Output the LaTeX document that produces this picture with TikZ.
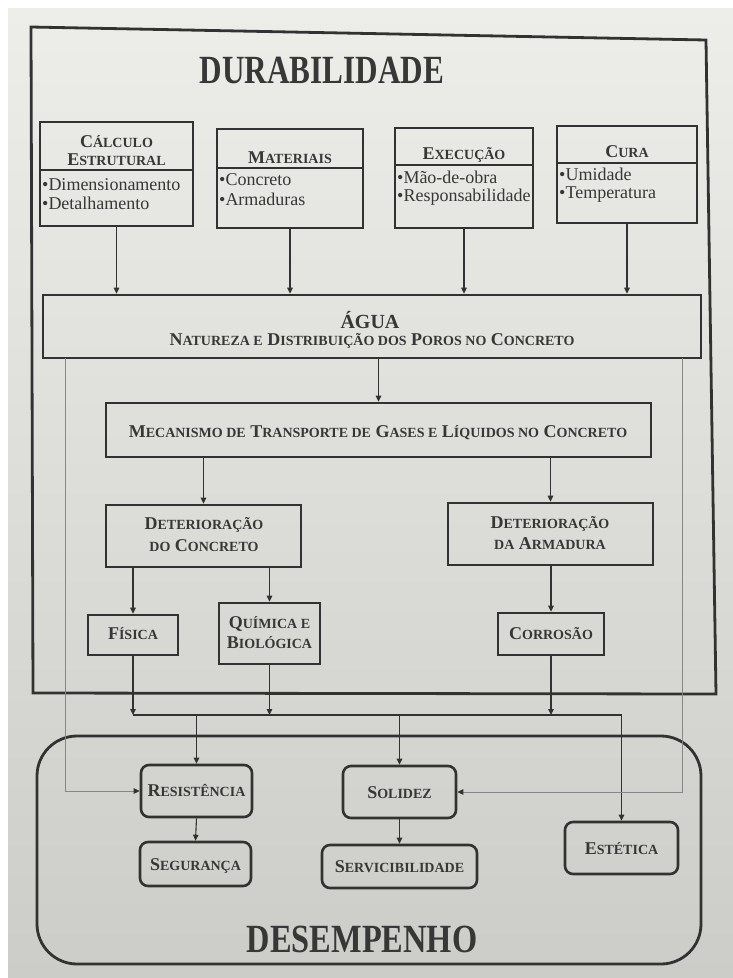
\documentclass[tikz,border=0pt]{standalone}
\usepackage{fontspec}
\setmainfont{Liberation Serif}
\usetikzlibrary{arrows.meta,calc}
\definecolor{ink}{RGB}{50,50,50}
\definecolor{txt}{RGB}{55,55,55}
\definecolor{thinc}{RGB}{135,135,135}
\definecolor{papA}{RGB}{237,237,234}
\definecolor{papB}{RGB}{204,204,201}
\newcommand\smc[1]{{\fontsize{14}{14}\selectfont #1}}
\begin{document}
\begin{tikzpicture}[x=1pt,y=-1pt,
  bx/.style={draw=ink, line width=2.6pt, inner sep=0pt},
  rbx/.style={bx, rounded corners=8pt},
  lab/.style={anchor=base, inner sep=0pt, text=txt, font=\bfseries\fontsize{18}{18}\selectfont},
  bul/.style={anchor=base west, inner sep=0pt, text=txt, font=\fontsize{18}{18}\selectfont},
  ttl/.style={anchor=base, inner sep=0pt, text=txt},
  tip/.style={-{Triangle[length=6pt,width=5.5pt]}},
  arr/.style={draw=ink, line width=1.1pt, tip},
  ln/.style={draw=ink, line width=1.1pt},
  fbarr/.style={draw=thinc, line width=0.8pt, -{Triangle[length=6pt,width=5.5pt,color=ink]}},
  divl/.style={draw=ink, line width=2.4pt}
]
\useasboundingbox (0,0) rectangle (733,978);
\fill[white] (0,0) rectangle (733,978);
\shade[top color=papA, bottom color=papB] (8,8) rectangle (733,978);

% outer frame
\draw[ink, line width=2.8pt, line join=miter] (31,27) -- (706,40) -- (716,694) -- (33,693) -- cycle;
\node[ttl] (tdur) at (322,83) {\fontsize{40}{40}\selectfont\bfseries\scalebox{0.78}[1]{DURABILIDADE}};

% top boxes
\node[bx, minimum width=153pt, minimum height=104pt] (calc) at (116.5,174) {};
\draw[divl] (40,170) -- (193,170);
\node[lab] (calcH1) at (116.5,147) {C\smc{ÁLCULO}};
\node[lab] (calcH2) at (116.5,165) {E\smc{STRUTURAL}};
\node[bul] (calcB1) at (42,190) {•Dimensionamento};
\node[bul] (calcB2) at (42,209) {•Detalhamento};

\node[bx, minimum width=146pt, minimum height=99pt] (mat) at (290,178.5) {};
\draw[divl] (217,168) -- (363,168);
\node[lab] (matH) at (290,163.5) {M\smc{ATERIAIS}};
\node[bul] (matB1) at (219,185) {•Concreto};
\node[bul] (matB2) at (219,205) {•Armaduras};

\node[bx, minimum width=138pt, minimum height=100pt] (exe) at (464,178) {};
\draw[divl] (395,165) -- (533,165);
\node[lab] (exeH) at (464,159.5) {E\smc{XECUÇÃO}};
\node[bul] (exeB1) at (397,183) {•Mão-de-obra};
\node[bul] (exeB2) at (397,201) {•Responsabilidade};

\node[bx, minimum width=140pt, minimum height=97pt] (cura) at (627,174.5) {};
\draw[divl] (557,163) -- (697,163);
\node[lab] (curaH) at (627,157.5) {C\smc{URA}};
\node[bul] (curaB1) at (559,180) {•Umidade};
\node[bul] (curaB2) at (559,198) {•Temperatura};

% agua
\node[bx, minimum width=658pt, minimum height=63pt] (agua) at (372,326.5) {};
\node[ttl, font=\bfseries\fontsize{20}{20}\selectfont] (aguaT) at (370,328) {ÁGUA};
\node[lab] (aguaS) at (372,345) {N\smc{ATUREZA E} D\smc{ISTRIBUIÇÃO DOS} P\smc{OROS NO} C\smc{ONCRETO}};

% mecanismo
\node[bx, minimum width=545pt, minimum height=54pt] (mec) at (378.5,430) {};
\node[lab] (mecT) at (378,437) {M\smc{ECANISMO DE} T\smc{RANSPORTE DE} G\smc{ASES E} L\smc{ÍQUIDOS NO} C\smc{ONCRETO}};

% deterioracao
\node[bx, minimum width=195pt, minimum height=62pt] (detc) at (203.5,536) {};
\node[lab] (detc1) at (204,529) {D\smc{ETERIORAÇÃO}};
\node[lab] (detc2) at (204,551) {\smc{DO} C\smc{ONCRETO}};
\node[bx, minimum width=205pt, minimum height=62pt] (deta) at (550.5,534) {};
\node[lab] (deta1) at (550,528) {D\smc{ETERIORAÇÃO}};
\node[lab] (deta2) at (550,549) {\smc{DA} A\smc{RMADURA}};

\node[bx, minimum width=90pt, minimum height=40pt] (fis) at (133,635) {};
\node[lab] (fisT) at (133,639) {F\smc{ÍSICA}};
\node[bx, minimum width=101pt, minimum height=61pt] (qui) at (269.5,633.5) {};
\node[lab] (qui1) at (269.5,628) {Q\smc{UÍMICA E}};
\node[lab] (qui2) at (269.5,648) {B\smc{IOLÓGICA}};
\node[bx, minimum width=106pt, minimum height=42pt] (cor) at (551,634) {};
\node[lab] (corT) at (551,639) {C\smc{ORROSÃO}};

% desempenho
\node[draw=ink, line width=2.8pt, rounded corners=40pt, minimum width=664pt, minimum height=228pt, inner sep=0pt] (desem) at (369,850) {};
\node[ttl] (tdes) at (362,952) {\fontsize{40}{40}\selectfont\bfseries\scalebox{0.81}[1]{DESEMPENHO}};

\node[rbx, minimum width=111pt, minimum height=52pt] (res) at (196.5,791) {};
\node[lab] (resT) at (196.5,796) {R\smc{ESISTÊNCIA}};
\node[rbx, minimum width=111pt, minimum height=44pt] (seg) at (195.5,864) {};
\node[lab] (segT) at (195.5,870) {S\smc{EGURANÇA}};
\node[rbx, minimum width=113pt, minimum height=52pt] (sol) at (399.5,792) {};
\node[lab] (solT) at (399.5,798) {S\smc{OLIDEZ}};
\node[rbx, minimum width=155pt, minimum height=43pt] (ser) at (399.5,866.5) {};
\node[lab] (serT) at (399.5,872) {S\smc{ERVICIBILIDADE}};
\node[rbx, minimum width=113pt, minimum height=52pt] (est) at (621.5,848) {};
\node[lab] (estT) at (621.5,854) {E\smc{STÉTICA}};

% connectors
\draw[arr] (calc.south) -- (calc.south |- agua.north);
\draw[arr] (mat.south) -- (mat.south |- agua.north);
\draw[arr] (exe.south) -- (exe.south |- agua.north);
\draw[arr] (cura.south) -- (cura.south |- agua.north);
\draw[arr] (mec.north |- agua.south) -- (mec.north);
\draw[arr] (detc.north |- mec.south) -- (detc.north);
\draw[arr] (deta.north |- mec.south) -- (deta.north);
\draw[arr] (fis.north |- detc.south) -- (fis.north);
\draw[arr] (qui.north |- detc.south) -- (qui.north);
\draw[arr] (cor.north |- deta.south) -- (cor.north);

\coordinate (bus) at (0,715);
\draw[arr] (fis.south) -- (fis.south |- bus);
\draw[arr] (qui.south) -- (qui.south |- bus);
\draw[arr] (cor.south) -- (cor.south |- bus);
\draw[ln] (fis.south |- bus) -- (est.north |- bus);
\draw[arr] (res.north |- bus) -- (res.north);
\draw[arr] (sol.north |- bus) -- (sol.north);
\draw[arr] (est.north |- bus) -- (est.north);
\draw[arr] (res.south) -- (seg.north);
\draw[arr] (sol.south) -- (ser.north);

\coordinate (fbL) at (65,358);
\coordinate (fbR) at (682,358);
\draw[fbarr] (fbL) |- (res.west);
\draw[fbarr] (fbR) |- (sol.east);
\end{tikzpicture}
\end{document}
